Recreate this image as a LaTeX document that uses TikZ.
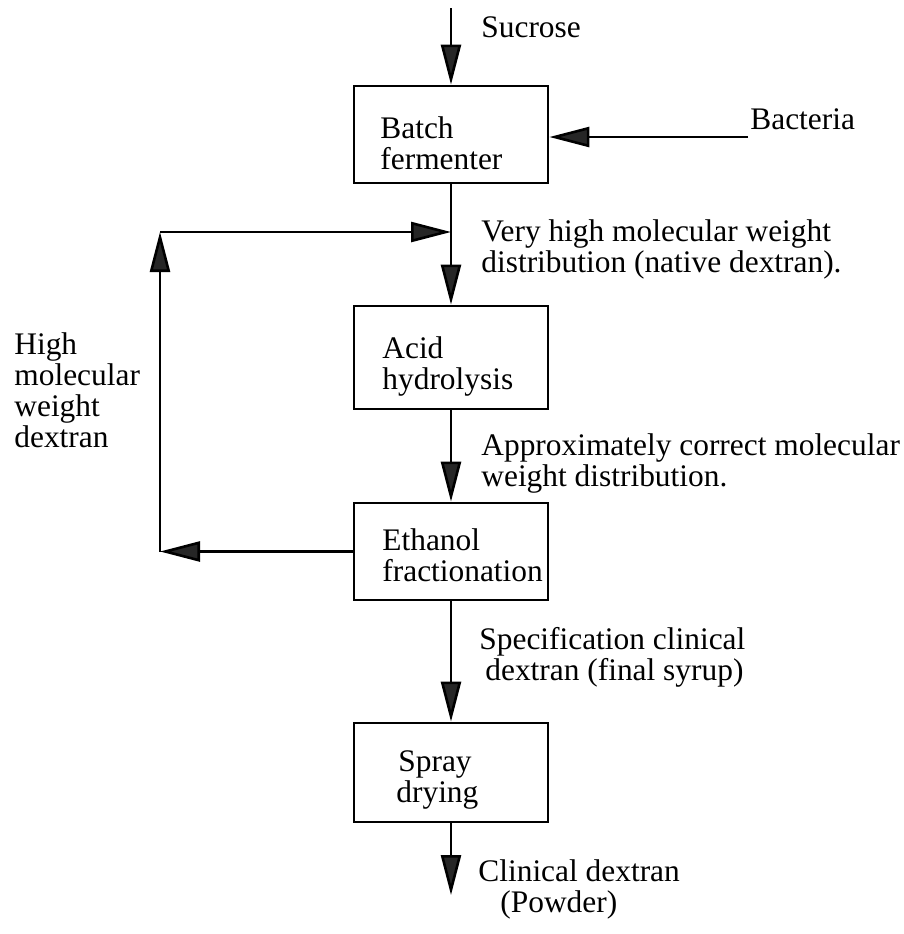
\documentclass[tikz,border=0pt]{standalone}
\usepackage{fontspec}
\setmainfont{Liberation Serif}
\usetikzlibrary{arrows.meta}

% base anchors of the multi-line labels sit on their last line
\tikzset{
  stagebox/.style={draw=black, line width=1.4pt, rectangle, minimum width=97pt, minimum height=48.5pt, inner sep=0pt},
  flow/.style={line width=1.3pt, -{Triangle[length=20pt, width=10pt, fill=black!85]}},
  txt/.style={inner sep=0pt, align=left, anchor=base west, font=\fontsize{15.7pt}{15.5pt}\selectfont},
}

\begin{document}
\begin{tikzpicture}[x=0.5pt, y=-0.5pt]
  \useasboundingbox (0,0) rectangle (904,934);

  % process stages
  \node[stagebox] (batch)   at (451,134.5) {};
  \node[stagebox, minimum height=51.5pt] (acid) at (451,357.5) {};
  \node[stagebox] (ethanol) at (451,551.5) {};
  \node[stagebox, minimum height=49.5pt] (spray) at (451,772.5) {};

  % stage names
  \node[txt] (tbatch)   at (380,169) {Batch\\fermenter};
  \node[txt] (tacid)    at (382,389) {Acid\\hydrolysis};
  \node[txt] (tethanol) at (382,581) {Ethanol\\fractionation};
  \node[txt] (tspray)   at (396,802) {\hspace*{1pt}Spray\\drying};

  % free ends of the connectors
  \coordinate (sucin)  at (451,8);
  \coordinate (bactin) at (748,137);
  \coordinate (prod)   at (451,895);
  \coordinate (fbA)    at (160,551.5);
  \coordinate (fbB)    at (160,232);
  \coordinate (fbC)    at (451,232);

  % main line
  \draw[flow] (sucin) -- (batch.north);
  \draw[flow] (bactin) -- (bactin -| batch.east);
  \draw[flow] (batch.south) -- (acid.north);
  \draw[flow] (acid.south) -- (ethanol.north);
  \draw[flow] (ethanol.south) -- (spray.north);
  \draw[flow] (spray.south) -- (prod);

  % recycle of the high molecular weight fraction
  \draw[flow] (ethanol.west) -- (fbA);
  \draw[flow] (fbA) -- (fbB);
  \draw[flow] (fbB) -- (fbC);

  % stream labels
  \node[txt] (lsuc)  at (481,37) {Sucrose};
  \node[txt] (lbact) at (750,129) {Bacteria};
  \node[txt] (lnat)  at (481,272) {Very high molecular weight\\distribution (native dextran).};
  \node[txt] (lhmw)  at (14,447) {High\\molecular\\weight\\dextran};
  \node[txt] (lappr) at (481,486) {Approximately correct molecular\\weight distribution.};
  \node[txt] (lspec) at (479,680) {Specification clinical\\\hspace*{3pt}dextran (final syrup)};
  \node[txt] (lprod) at (478,912) {Clinical dextran\\\hspace*{11pt}(Powder)};
\end{tikzpicture}
\end{document}
